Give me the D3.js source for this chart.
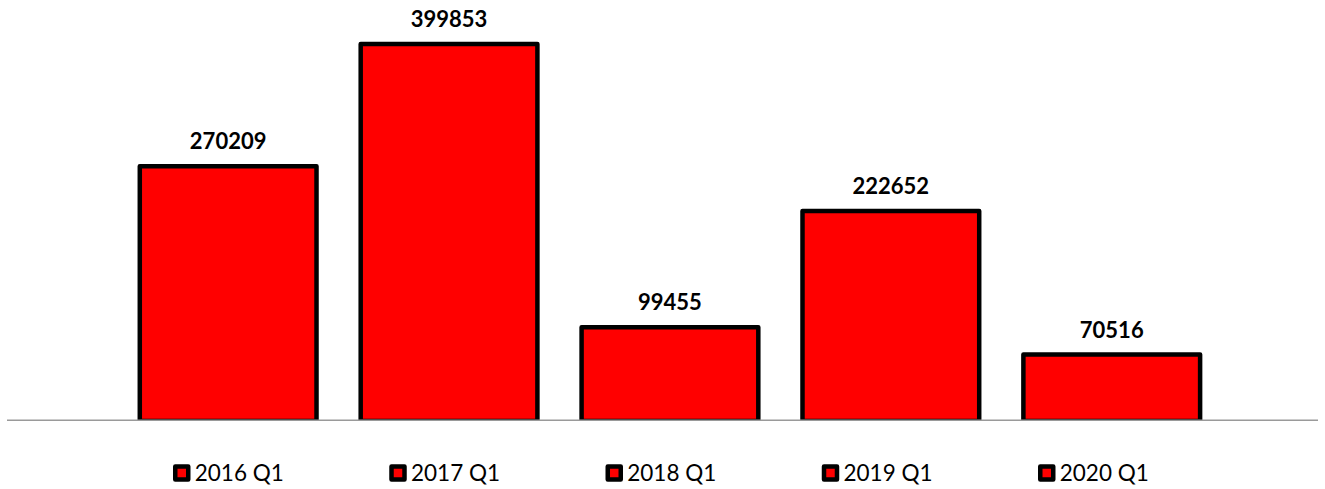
<!DOCTYPE html>
<html>
<head>
<meta charset="utf-8">
<script src="https://cdn.jsdelivr.net/npm/d3@7"></script>
<style>
  body { margin: 0; background: #fff; }
  svg { display: block; }
</style>
</head>
<body>
<svg id="chart" width="1325" height="489"></svg>
<script>
const series = ["2016 Q1", "2017 Q1", "2018 Q1", "2019 Q1", "2020 Q1"];
const values = [270209, 399853, 99455, 222652, 70516];

const width = 1325;
const height = 489;
const baseY = 421;

const svg = d3.select("#chart");

const x = d3.scaleBand()
  .domain(series)
  .range([117.7, 1222.2])
  .paddingInner(0.2)
  .paddingOuter(0.1);

const y = d3.scaleLinear()
  .domain([0, 450000])
  .range([baseY, baseY - 450000 * 0.000943]);

svg.append("defs").append("clipPath")
  .attr("id", "plotClip")
  .append("rect")
  .attr("x", 0).attr("y", 0)
  .attr("width", width).attr("height", baseY);

const data = series.map((s, i) => ({ name: s, value: values[i] }));

svg.append("g")
  .attr("clip-path", "url(#plotClip)")
  .selectAll("rect")
  .data(data)
  .join("rect")
  .attr("x", d => x(d.name))
  .attr("y", d => y(d.value))
  .attr("width", x.bandwidth())
  .attr("height", d => y(0) - y(d.value))
  .attr("fill", "#ff0000")
  .attr("stroke", "#000")
  .attr("stroke-width", 4.5)
  .attr("stroke-linejoin", "round");

// baseline
svg.append("line")
  .attr("x1", 7).attr("x2", 1318)
  .attr("y1", 420.25).attr("y2", 420.25)
  .attr("stroke", "#9a9a9a")
  .attr("stroke-width", 1.5);

svg.selectAll("text.label")
  .data(data)
  .join("text")
  .attr("class", "label")
  .attr("x", d => x(d.name) + x.bandwidth() / 2)
  .attr("y", d => y(d.value) - 17)
  .attr("text-anchor", "middle")
  .attr("font-family", "Lato, 'Open Sans', sans-serif")
  .attr("font-weight", "bold")
  .attr("font-size", 22)
  .attr("fill", "#000")
  .text(d => d.value);

// legend
const lx = d3.scalePoint()
  .domain(series)
  .range([181.75, 1046.75]);

const legend = svg.append("g")
  .selectAll("g")
  .data(series)
  .join("g")
  .attr("transform", d => `translate(${lx(d)},473)`);

legend.append("rect")
  .attr("x", -6.5).attr("y", -6.5)
  .attr("width", 13).attr("height", 13)
  .attr("fill", "#ff0000")
  .attr("stroke", "#000")
  .attr("stroke-width", 4.5)
  .attr("stroke-linejoin", "round");

legend.append("text")
  .attr("x", 13)
  .attr("y", 7.5)
  .attr("font-family", "Lato, 'Open Sans', sans-serif")
  .attr("font-size", 22.5)
  .attr("fill", "#000")
  .text(d => d);
</script>
</body>
</html>
